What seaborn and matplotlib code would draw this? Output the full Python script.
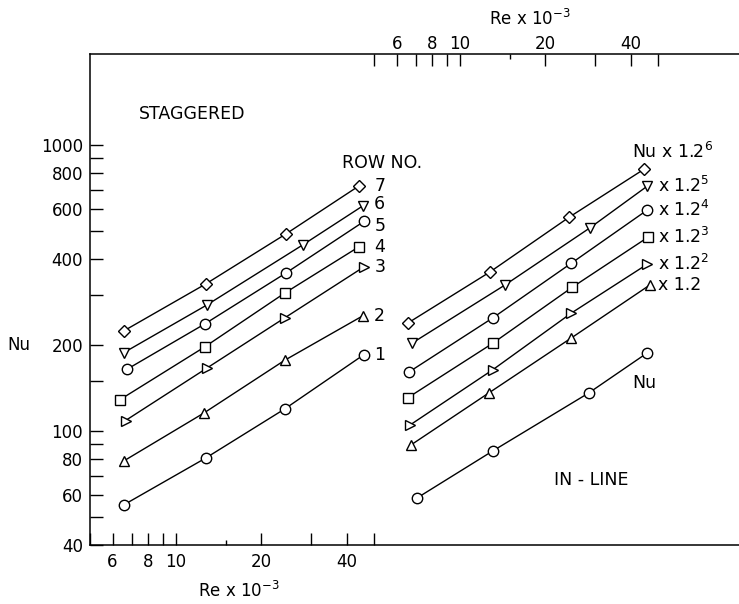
import numpy as np
import pandas as pd
import matplotlib.pyplot as plt
import matplotlib.ticker as mticker
import seaborn as sns

sns.set_style('ticks')
plt.rcParams['font.family'] = ['DejaVu Sans']
plt.rcParams.update({'text.color': 'black', 'axes.labelcolor': 'black',
                     'xtick.color': 'black', 'ytick.color': 'black',
                     'axes.edgecolor': 'black'})

# staggered bank, row 1..7  (Re x 10^-3 on bottom axis)
stag_labels = ['1', '2', '3', '4', '5', '6', '7']
stag_markers = ['o', '^', '>', 's', 'o', 'v', 'D']
stag_re = [
    [6.56, 12.75, 24.2, 45.9],
    [6.56, 12.55, 24.2, 45.5],
    [6.67, 12.86, 24.2, 45.9],
    [6.35, 12.65, 24.2, 44.1],
    [6.77, 12.65, 24.4, 46.2],
    [6.56, 12.86, 28.0, 45.5],
    [6.56, 12.75, 24.4, 44.1],
]
stag_nu = [
    [55.2, 80.5, 119.6, 185],
    [78.6, 115.6, 177, 253],
    [109, 166, 249, 375],
    [128.6, 197, 304, 441],
    [165, 237, 357, 543],
    [188, 276, 448, 613],
    [224, 327, 489, 720],
]
# where the row numbers sit (Nu), next to the last point of each row
stag_label_nu = [185, 253, 375, 441, 522, 622, 720]

# in-line bank (Re x 10^-3 on top axis), Nu scaled by 1.2^k
inline_labels = ['Nu', 'x 1.2', r'x 1.2$^2$', r'x 1.2$^3$', r'x 1.2$^4$',
                 r'x 1.2$^5$', r'Nu x 1.2$^6$']
inline_markers = ['o', '^', '>', 's', 'o', 'v', 'D']
inline_re = [
    [7.07, 13.06, 28.4, 45.7],
    [6.73, 12.64, 24.7, 46.5],
    [6.67, 13.06, 24.7, 45.7],
    [6.57, 13.06, 24.9, 46.1],
    [6.62, 13.06, 24.7, 45.7],
    [6.78, 14.38, 28.6, 45.7],
    [6.57, 12.74, 24.3, 44.6],
]
inline_nu = [
    [58.4, 85.3, 136, 188],
    [89.5, 136, 212, 324],
    [105, 164, 259, 384],
    [131, 203, 319, 478],
    [161, 249, 387, 594],
    [203, 324, 513, 720],
    [239, 360, 561, 826],
]

x_ticks = [5, 6, 7, 8, 9, 10, 20, 30, 40, 50]
x_labeled = [6, 8, 10, 20, 40]
y_ticks = [40, 50, 60, 70, 80, 90, 100, 150, 200, 300, 400, 500, 600, 700, 800, 900, 1000]
y_labeled = [40, 60, 80, 100, 200, 400, 600, 800, 1000]

fig = plt.figure(figsize=(7.39, 6.04), dpi=100)
ax = fig.add_axes([90 / 739, 59 / 604, 649 / 739, 491 / 604])
ax.set_xscale('log')
ax.set_yscale('log')
ax.set_xlim(5, 960)
ax.set_ylim(40, 2085)

ax2 = ax.twiny()
ax2.set_xscale('log')
ax2.set_xlim(0.5, 96)

mk = dict(color='black', markerfacecolor='white', markeredgecolor='black',
          markeredgewidth=1.0, linewidth=1.0)

def msize(m):
    return 6.0 if m == 'D' else (6.8 if m == 's' else 7.5)

for re, nu, m in zip(stag_re, stag_nu, stag_markers):
    sns.lineplot(x=re, y=nu, marker=m, markersize=msize(m), ax=ax, **mk)
for re, nu, m in zip(inline_re, inline_nu, inline_markers):
    sns.lineplot(x=re, y=nu, marker=m, markersize=msize(m), ax=ax2, **mk)

fmt = lambda v, p: ('%g' % v) if v in x_labeled else ''
for a, side in [(ax, 'bottom'), (ax2, 'top')]:
    a.xaxis.set_major_locator(mticker.FixedLocator(x_ticks))
    a.xaxis.set_major_formatter(mticker.FuncFormatter(fmt))
    a.xaxis.set_minor_locator(mticker.FixedLocator([15]))
    a.xaxis.set_minor_formatter(mticker.NullFormatter())
    a.tick_params(axis='x', which='major', direction='in', length=8.5, width=1.0,
                  labelsize=12, pad=6 if side == 'bottom' else 0.5)
    a.tick_params(axis='x', which='minor', direction='in', length=3.5, width=1.0)
    for s in ['left', 'right', 'top', 'bottom']:
        a.spines[s].set_visible(False)
    a.spines[side].set_visible(True)
    a.spines[side].set_linewidth(1.1)
    a.set_xlabel('')
    a.set_ylabel('')

ax.spines['left'].set_visible(True)
ax.spines['left'].set_linewidth(1.1)
ax.yaxis.set_major_locator(mticker.FixedLocator(y_ticks))
ax.yaxis.set_major_formatter(mticker.FuncFormatter(
    lambda v, p: ('%g' % v) if v in y_labeled else ''))
ax.yaxis.set_minor_locator(mticker.NullLocator())
ax.tick_params(axis='y', direction='in', length=9, width=1.0, labelsize=12, pad=5)
ax.tick_params(axis='x', top=False)

fs = 12.5
# row numbers
for lab, nu in zip(stag_labels, stag_label_nu):
    ax.text(50, nu, lab, fontsize=fs, ha='left', va='center')
ax.text(38.4, 867, 'ROW NO.', fontsize=fs, ha='left', va='center')
ax.text(7.4, 1284, 'STAGGERED', fontsize=fs, ha='left', va='center')

# in-line labels
for lab, nu in zip(inline_labels[1:-1], inline_nu[1:-1]):
    ax2.text(50, nu[-1], lab, fontsize=fs, ha='left', va='center')
ax2.text(40.5, 944, inline_labels[-1], fontsize=fs, ha='left', va='center')
ax2.text(44.6, 147, inline_labels[0], fontsize=fs, ha='center', va='center')
ax2.text(21.5, 67.5, 'IN - LINE', fontsize=fs, ha='left', va='center')

fig.text(7 / 739, 1 - 345 / 604, 'Nu', fontsize=12, ha='left', va='center')
fig.text(239 / 739, 1 - 597 / 604, r'Re x 10$^{-3}$', fontsize=12, ha='center', va='baseline')
fig.text(530 / 739, 1 - 25 / 604, r'Re x 10$^{-3}$', fontsize=12, ha='center', va='baseline')

fig.savefig('out.png', dpi=100)
